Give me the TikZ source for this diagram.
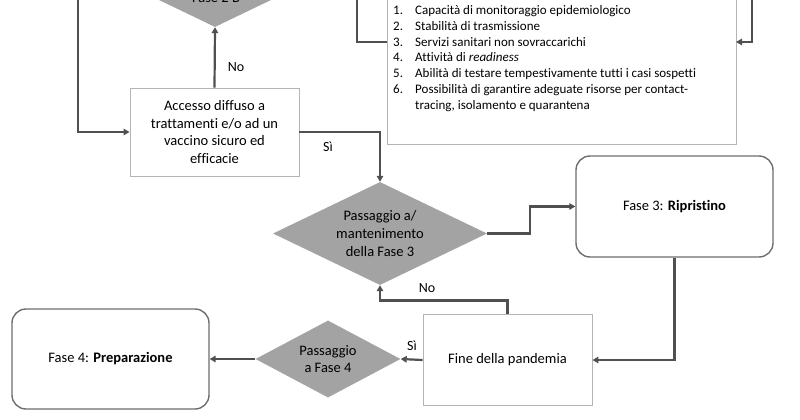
\documentclass[tikz,border=0pt]{standalone}
\usepackage{fontspec}
\setmainfont[Ligatures={NoCommon}]{Carlito}
\usetikzlibrary{shapes.geometric,arrows.meta}
\definecolor{lineg}{HTML}{505050}
\definecolor{dfill}{HTML}{A3A3A3}
\definecolor{boxb}{HTML}{B4B4B4}
\definecolor{rboxb}{HTML}{6E6E6E}
\begin{document}
\begin{tikzpicture}[x=1pt,y=-1pt,
  conn/.style={draw=lineg,line width=2.2pt},
  arr/.style={conn,-{Triangle[length=6pt,width=6.5pt]}},
  bigtext/.style={font=\fontsize{14.5}{17.6}\selectfont},
  rbox/.style={bigtext,draw=boxb,line width=0.9pt,fill=white,align=center,inner sep=0pt},
  pbox/.style={bigtext,draw=rboxb,line width=1.4pt,rounded corners=14pt,fill=white,align=center,inner sep=0pt},
  dia/.style={bigtext,diamond,fill=dfill,inner sep=0pt,align=center},
  lab/.style={font=\fontsize{14}{17}\selectfont,inner sep=0pt},
  li/.style={anchor=base west,font=\fontsize{13}{15.8}\selectfont,inner sep=0pt}
]
\clip (0,0) rectangle (800,420);
\fill[white] (0,0) rectangle (800,420);

% nodes
\node[dia,shape aspect=2.08,minimum width=214pt,minimum height=103pt] (d2b) at (215,-24.5) {};
\node[lab,anchor=base,font=\fontsize{14.5}{17.6}\selectfont] (d2bt) at (216,3) {Fase 2 B};

\node[rbox,minimum width=169pt,minimum height=88pt] (acc) at (214.5,132)
  {Accesso diffuso a\\trattamenti e/o ad un\\vaccino sicuro ed\\efficacie};

\node[draw=boxb,line width=0.9pt,fill=white,minimum width=349pt,minimum height=160pt,inner sep=0pt] (lst) at (561.5,64) {};
\node[li] (l1) at (393,14.5) {\makebox[22pt][l]{1.}Capacità di monitoraggio epidemiologico};
\node[li] (l2) at (393,30.3) {\makebox[22pt][l]{2.}Stabilità di trasmissione};
\node[li] (l3) at (393,46.1) {\makebox[22pt][l]{3.}Servizi sanitari non sovraccarichi};
\node[li] (l4) at (393,61.9) {\makebox[22pt][l]{4.}Attività di \textit{readiness}};
\node[li] (l5) at (393,77.7) {\makebox[22pt][l]{5.}Abilità di testare tempestivamente tutti i casi sospetti};
\node[li] (l6) at (393,93.5) {\makebox[22pt][l]{6.}Possibilità di garantire adeguate risorse per contact-};
\node[li] (l7) at (415,109.3) {tracing, isolamento e quarantena};
\coordinate (lstin) at (387,42);
\coordinate (lstin2) at (736,42);

\node[dia,shape aspect=2.08,minimum width=214pt,minimum height=103pt] (d3) at (380,233.5)
  {Passaggio a/\\mantenimento\\della Fase 3};

\node[pbox,minimum width=197pt,minimum height=101pt] (f3) at (674.5,206.5) {Fase 3: \textbf{Ripristino}};

\node[rbox,minimum width=169pt,minimum height=91pt] (fine) at (507.5,360) {Fine della pandemia};

\node[dia,shape aspect=1.88,minimum width=145pt,minimum height=77pt] (d4) at (328,359)
  {Passaggio\\a Fase 4};

\node[pbox,minimum width=197pt,minimum height=100pt] (f4) at (110.5,359) {Fase 4: \textbf{Preparazione}};

% labels
\node[lab] (no1) at (236,67) {No};
\node[lab] (si1) at (328,147) {Sì};
\node[lab] (no2) at (427,288) {No};
\node[lab] (si2) at (412,346) {Sì};

% connectors
\coordinate (t1) at (78,-10);
\coordinate (t2) at (357,-10);
\coordinate (t3) at (752,-10);
\draw[arr] (t1) |- (acc.west);
\draw[arr] (acc.north) -- (d2b.south);
\draw[arr] (acc.east) -| (d3.north);
\draw[conn] (t2) |- (lstin);
\draw[arr] (t3) |- (lstin2);
\draw[arr] (d3.east) -- ++(43,0) |- (f3.west);
\draw[arr] (f3.south) |- (fine.east);
\draw[arr] (fine.north) -- ++(0,-13.5) -| (d3.south);
\draw[arr] (fine.west) -- (d4.east);
\draw[arr] (d4.west) -- (f4.east);
\end{tikzpicture}
\end{document}
